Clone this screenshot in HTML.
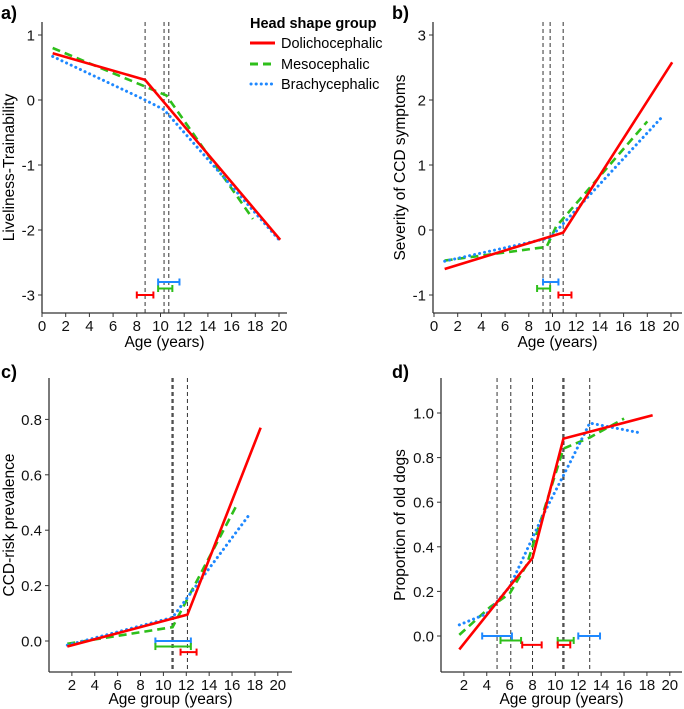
<!DOCTYPE html>
<html><head><meta charset="utf-8"><style>
body{margin:0;background:#fff}
svg{font-family:"Liberation Sans",sans-serif;display:block}
</style></head><body>
<svg id="fig" width="684" height="709" viewBox="0 0 684 709">
<g>
<text x="250" y="28" font-size="14.5" font-weight="bold">Head shape group</text>
<line x1="250" y1="43" x2="275" y2="43" stroke="#f00" stroke-width="3"/>
<text x="281" y="48" font-size="14.5">Dolichocephalic</text>
<line x1="250" y1="64" x2="275" y2="64" stroke="#2ebf1a" stroke-width="3" stroke-dasharray="8,5"/>
<text x="281" y="69" font-size="14.5">Mesocephalic</text>
<line x1="251" y1="84" x2="275" y2="84" stroke="#1e88ff" stroke-width="3" stroke-dasharray="0.1,5" stroke-linecap="round"/>
<text x="281" y="89" font-size="14.5">Brachycephalic</text>
</g>
</svg>
<script>
// Panel a data
const aRed=[[0.9,0.72],[8.7,0.31],[20.1,-2.15]];
const aGreen=[[0.9,0.8],[10.5,0.07],[17.8,-1.83]];
const aBlue=[[0.9,0.67],[8.7,0.0],[10.3,-0.15],[20,-2.15]];
const aVlines=[8.7,10.3,10.7];
const aErr=[[8.0,9.4,-3,'r'],[9.8,11.0,-2.9,'g'],[9.8,11.6,-2.8,'b']];
const aXTicks=[0,2,4,6,8,10,12,14,16,18,20];
const aYTicks=[1,0,-1,-2,-3];
// Panel b data
const bRed=[[0.9,-0.6],[10.9,-0.04],[20.1,2.58]];
const bGreen=[[0.9,-0.47],[9.5,-0.26],[10.3,0.05],[18,1.67]];
const bBlue=[[0.9,-0.48],[9.8,-0.12],[19.2,1.73]];
const bVlines=[9.2,9.8,10.9];
const bErr=[[9.2,10.5,-0.8,'b'],[8.7,9.8,-0.9,'g'],[10.5,11.6,-1.0,'r']];
const bYTicks=[3,2,1,0,-1];
// Panel c data
const cRed=[[1.6,-0.02],[12.1,0.095],[18.5,0.77]];
const cGreen=[[1.6,-0.01],[10.8,0.05],[16.4,0.49]];
const cBlue=[[1.6,-0.015],[10.8,0.085],[17.4,0.45]];
const cVlines=[10.75,10.85,12.1];
const cErr=[[9.3,12.4,0,'b'],[9.3,12.4,-0.02,'g'],[11.5,12.9,-0.04,'r']];
const cdXTicks=[2,4,6,8,10,12,14,16,18,20];
const cYTicks=[0.8,0.6,0.4,0.2,0.0];
// Panel d data
const dRed=[[1.6,-0.06],[8,0.35],[10.7,0.885],[18.5,0.99]];
const dGreen=[[1.6,0.005],[4.3,0.13],[6,0.19],[7.5,0.32],[10.7,0.84],[13,0.89],[16,0.975]];
const dBlue=[[1.6,0.05],[4,0.1],[6,0.22],[9,0.55],[11.5,0.8],[13,0.955],[17.5,0.91]];
const dVlines=[4.9,6.1,8.0,10.65,10.75,13.0];
const dErr=[[3.6,6.2,0,'b'],[12,13.9,0,'b'],[5.2,7.0,-0.02,'g'],[10.2,11.6,-0.02,'g'],[7.1,8.8,-0.04,'r'],[10.2,11.3,-0.04,'r']];
const dYTicks=[1.0,0.8,0.6,0.4,0.2,0.0];

const NS='http://www.w3.org/2000/svg';
const svg=document.getElementById('fig');
const COL={r:'#f00',g:'#2ebf1a',b:'#1e88ff'};
function mk(tag,attrs,parent){const e=document.createElementNS(NS,tag);for(const k in attrs)e.setAttribute(k,attrs[k]);(parent||svg).appendChild(e);return e;}

function panel(p){
  const g=mk('g',{});
  
  
  const X=v=>p.x0+v*p.sx, Y=v=>p.y0-v*p.sy;
  let t=mk('text',{x:p.lx,y:p.ly,'font-size':18,'font-weight':'bold'},g);t.textContent=p.letter;
  
  
  let ax=mk('line',{x1:p.ax,y1:p.top,x2:p.ax,y2:p.bot,stroke:'#333','stroke-width':1.3},g);
  
  
  ax=mk('line',{x1:p.ax,y1:p.bot,x2:p.right,y2:p.bot,stroke:'#333','stroke-width':1.3},g);
  
  
  p.xt.forEach(v=>{
    mk('line',{x1:X(v),y1:p.bot,x2:X(v),y2:p.bot+4,stroke:'#333'},g);
    const tt=mk('text',{x:X(v),y:p.bot+18,'font-size':15,'text-anchor':'middle',fill:'#111'},g);tt.textContent=v;
    
    
  });
  p.yt.forEach(v=>{
    mk('line',{x1:p.ax-4,y1:Y(v),x2:p.ax,y2:Y(v),stroke:'#333'},g);
    const tt=mk('text',{x:p.ax-7,y:Y(v)+5.5,'font-size':15,'text-anchor':'end',fill:'#111'},g);tt.textContent=p.fmt(v);
    
    
  });
  t=mk('text',{x:(p.ax+p.right)/2,y:p.bot+p.tOff,'font-size':15.5,'text-anchor':'middle'},g);t.textContent=p.xtitle;
  
  
  const cy=(p.top+p.bot)/2;
  t=mk('text',{x:p.ytx,y:cy,'font-size':15.5,'text-anchor':'middle',transform:`rotate(-90 ${p.ytx} ${cy})`},g);t.textContent=p.ytitle;
  
  
  p.vl.forEach(v=>{
    const l=mk('line',{x1:X(v),y1:p.top,x2:X(v),y2:p.bot,stroke:'#333','stroke-width':1,'stroke-dasharray':'4,3'},g);
    
    
  });
  const series=[[p.g,'g','8,5','meso-line'],[p.b,'b','0.1,5','brachy-line'],[p.r,'r',null,'dolicho-line']];
  series.forEach(([d,c,da,nm])=>{
    const pl=mk('polyline',{points:d.map(q=>X(q[0])+','+Y(q[1])).join(' '),fill:'none',stroke:COL[c],'stroke-width':c==='b'?3:2.6},g);
    if(da)pl.setAttribute('stroke-dasharray',da);
    if(c==='b')pl.setAttribute('stroke-linecap','round');
    
    
  });
  p.err.forEach(([a,b,yv,c])=>{
    const eg=mk('g',{stroke:COL[c],'stroke-width':2},g);
    
    
    mk('line',{x1:X(a),y1:Y(yv),x2:X(b),y2:Y(yv)},eg);
    mk('line',{x1:X(a),y1:Y(yv)-3.5,x2:X(a),y2:Y(yv)+3.5},eg);
    mk('line',{x1:X(b),y1:Y(yv)-3.5,x2:X(b),y2:Y(yv)+3.5},eg);
  });
}
const f0=v=>String(v), f1=v=>v.toFixed(1);
panel({name:'panel-a',letter:'a)',lx:1,ly:19,x0:42,sx:11.85,y0:100,sy:65,ax:42,top:22,bot:313,right:287,tOff:34,xt:aXTicks,yt:aYTicks,fmt:f0,xtitle:'Age (years)',ytitle:'Liveliness-Trainability',ytx:14,r:aRed,g:aGreen,b:aBlue,vl:aVlines,err:aErr});
panel({name:'panel-b',letter:'b)',lx:392,ly:19,x0:434,sx:11.85,y0:230,sy:65,ax:433,top:22,bot:313,right:682,tOff:34,xt:aXTicks,yt:bYTicks,fmt:f0,xtitle:'Age (years)',ytitle:'Severity of CCD symptoms',ytx:405,r:bRed,g:bGreen,b:bBlue,vl:bVlines,err:bErr});
panel({name:'panel-c',letter:'c)',lx:1,ly:378,x0:49,sx:11.44,y0:641,sy:277,ax:49,top:378,bot:672,right:292,tOff:32,xt:cdXTicks,yt:cYTicks,fmt:f1,xtitle:'Age group (years)',ytitle:'CCD-risk prevalence',ytx:14,r:cRed,g:cGreen,b:cBlue,vl:cVlines,err:cErr});
panel({name:'panel-d',letter:'d)',lx:392,ly:378,x0:441,sx:11.44,y0:636,sy:223,ax:441,top:378,bot:672,right:682,tOff:32,xt:cdXTicks,yt:dYTicks,fmt:f1,xtitle:'Age group (years)',ytitle:'Proportion of old dogs',ytx:405,r:dRed,g:dGreen,b:dBlue,vl:dVlines,err:dErr});
</script>
</body></html>
